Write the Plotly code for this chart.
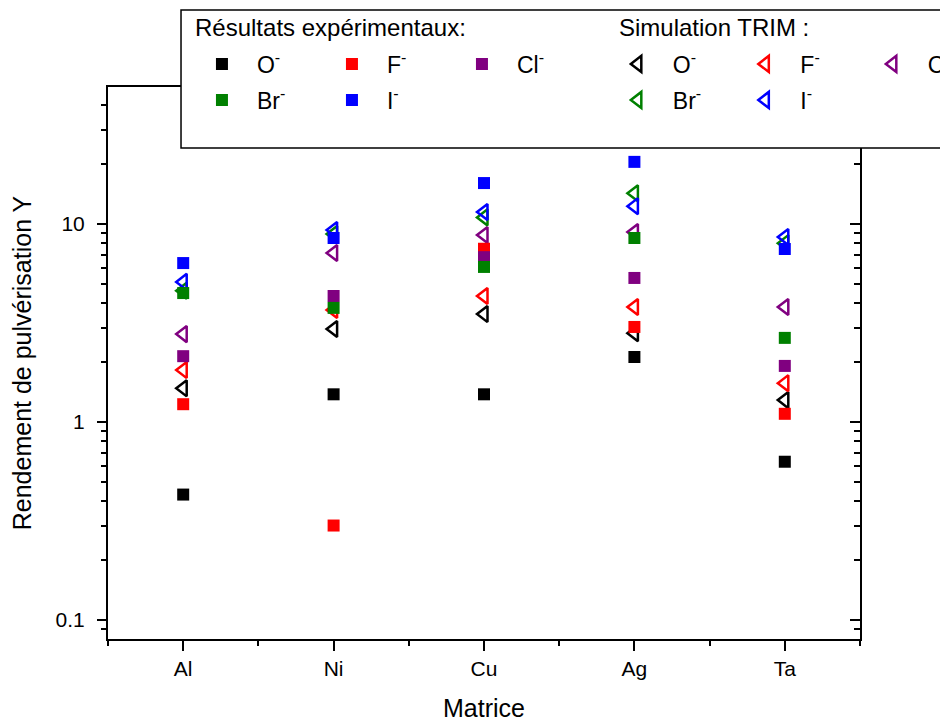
import plotly.graph_objects as go

# matrices
cats = ["Al", "Ni", "Cu", "Ag", "Ta"]

# résultats expérimentaux
exp_O = [0.43, 1.38, 1.38, 2.13, 0.63]
exp_F = [1.23, 0.30, 7.5, 3.02, 1.10]
exp_Cl = [2.15, 4.33, 6.8, 5.34, 1.92]
exp_Br = [4.48, 3.77, 6.07, 8.5, 2.66]
exp_I = [6.35, 8.5, 16.1, 20.6, 7.48]

# simulation TRIM
sim_O = [1.48, 2.95, 3.51, 2.81, 1.29]
sim_F = [1.83, 3.68, 4.33, 3.81, 1.57]
sim_Cl = [2.78, 7.14, 8.8, 9.1, 3.81]
sim_Br = [4.6, 8.9, 10.8, 14.3, 8.0]
sim_I = [5.1, 9.33, 11.5, 12.3, 8.6]

ions = ["O<sup>-</sup>", "F<sup>-</sup>", "Cl<sup>-</sup>", "Br<sup>-</sup>", "I<sup>-</sup>"]
colors = ["#000000", "#ff0000", "#800080", "#008000", "#0000ff"]
exp_data = [exp_O, exp_F, exp_Cl, exp_Br, exp_I]
sim_data = [sim_O, sim_F, sim_Cl, sim_Br, sim_I]

FONT = "Liberation Sans, Arial, sans-serif"
yr = [-1.096, 1.692]
minor_vals = [k * 10 ** e for e in (-2, -1, 0, 1) for k in range(2, 10)]

fig = go.Figure()

# triangles first (below), then squares on the overlaying axes
for i, (name, c, ys) in enumerate(zip(ions, colors, sim_data)):
    fig.add_trace(go.Scatter(
        x=cats, y=ys, mode="markers", name=name,
        marker=dict(symbol="triangle-left-open", size=14, color=c,
                    line=dict(width=2.5, color=c)),
        legend="legend3" if i < 3 else "legend4",
    ))
for i, (name, c, ys) in enumerate(zip(ions, colors, exp_data)):
    fig.add_trace(go.Scatter(
        x=cats, y=ys, mode="markers", name=name, xaxis="x2", yaxis="y2",
        marker=dict(symbol="square", size=12, color=c, line=dict(width=0)),
        legend="legend" if i < 3 else "legend2",
    ))

axis_font = dict(family=FONT, size=21, color="black")

def leg(x, y, iw, ew):
    return dict(x=x, y=y, xanchor="left", yanchor="middle", orientation="h",
                bgcolor="rgba(0,0,0,0)", borderwidth=0, itemwidth=iw,
                entrywidth=ew, font=dict(family=FONT, size=23, color="black"),
                itemclick=False)

fig.update_layout(
    width=940, height=714,
    margin=dict(l=100, r=88, t=79, b=83, autoexpand=False),
    paper_bgcolor="white", plot_bgcolor="white",
    font=dict(family=FONT, color="black"),
    xaxis=dict(
        type="category", categoryarray=cats, range=[-0.5, 4.5], showgrid=False,
        showline=True, linewidth=2, linecolor="black", mirror=True,
        ticks="outside", ticklen=10, tickwidth=2, tickcolor="black",
        tickfont=axis_font,
        title=dict(text="Matrice", font=dict(family=FONT, size=25), standoff=21),
    ),
    xaxis2=dict(
        type="category", categoryarray=cats, overlaying="x", anchor="y2",
        side="bottom", range=[-0.5, 4.5], tickson="boundaries",
        showgrid=False, zeroline=False, showline=False, showticklabels=False,
        ticks="outside", ticklen=6, tickwidth=2, tickcolor="black",
    ),
    yaxis=dict(
        type="log", range=yr, showgrid=False, zeroline=False,
        showline=True, linewidth=2, linecolor="black",
        tickvals=[0.1, 1, 10], ticktext=["0.1", "1", "10"],
        ticks="outside", ticklen=9, tickwidth=2, tickcolor="black",
        ticklabelstandoff=8,
        minor=dict(tickvals=minor_vals, ticks="outside", ticklen=5,
                   tickwidth=2, tickcolor="black", showgrid=False),
        tickfont=axis_font,
        title=dict(text="Rendement de pulvérisation Y",
                   font=dict(family=FONT, size=25), standoff=20),
    ),
    yaxis2=dict(
        type="log", range=yr, overlaying="y", side="right", anchor="x2",
        showgrid=False, zeroline=False,
        showline=True, linewidth=2, linecolor="black",
        tickvals=[0.1, 1, 10], showticklabels=False,
        ticks="inside", ticklen=10, tickwidth=2, tickcolor="black",
        minor=dict(tickvals=minor_vals, ticks="inside", ticklen=6,
                   tickwidth=2, tickcolor="black", showgrid=False),
    ),
    legend=leg(0.105, 1.0417, 60, 55),
    legend2=leg(0.105, 0.9764, 60, 55),
    legend3=leg(0.658, 1.0417, 60, 52.5),
    legend4=leg(0.658, 0.9764, 60, 52.5),
    shapes=[dict(type="rect", xref="paper", yref="paper",
                 x0=0.0971, x1=1.25, y0=0.8895, y1=1.1395,
                 line=dict(color="black", width=1.5), fillcolor="white",
                 layer="above")],
    annotations=[
        dict(text="Résultats expérimentaux:", xref="paper", yref="paper",
             x=0.113, y=1.107, xanchor="left", yanchor="middle",
             showarrow=False, font=dict(family=FONT, size=24)),
        dict(text="Simulation TRIM :", xref="paper", yref="paper",
             x=0.677, y=1.107, xanchor="left", yanchor="middle",
             showarrow=False, font=dict(family=FONT, size=24)),
    ],
)

fig.write_html("out.html")
